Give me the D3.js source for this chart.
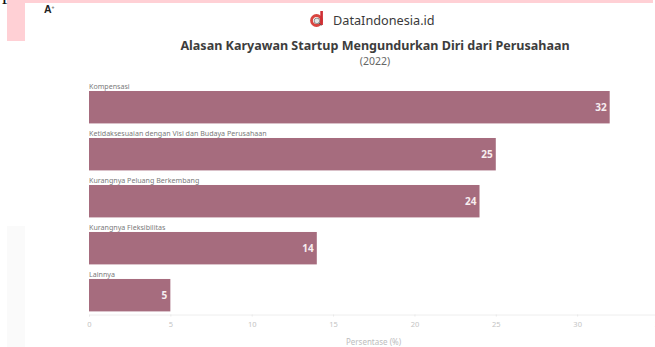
<!DOCTYPE html>
<html>
<head>
<meta charset="utf-8">
<script src="https://cdn.jsdelivr.net/npm/d3@7/dist/d3.min.js"></script>
<style>
  html, body { margin: 0; padding: 0; background: #fff; }
  svg { display: block; }
  text { font-family: "Noto Sans", "Open Sans", sans-serif; }
</style>
</head>
<body>
<svg id="chart" width="655" height="347"></svg>
<script>
const categories = [
  "Kompensasi",
  "Ketidaksesuaian dengan Visi dan Budaya Perusahaan",
  "Kurangnya Peluang Berkembang",
  "Kurangnya Fleksibilitas",
  "Lainnya"
];
const values = [32, 25, 24, 14, 5];
const xTicks = [0, 5, 10, 15, 20, 25, 30, 35];

const svg = d3.select("#chart");

// Page furniture around the chart card
svg.append("rect").attr("x", 7).attr("y", 0).attr("width", 646).attr("height", 3).attr("fill", "#ffd0d5");
svg.append("rect").attr("x", 7).attr("y", 0).attr("width", 18).attr("height", 41).attr("fill", "#ffd0d5");
svg.append("rect").attr("x", 7).attr("y", 226).attr("width", 18).attr("height", 121).attr("fill", "#fafafa");
svg.append("text").attr("x", 2).attr("y", -1).attr("font-size", 21)
  .style("font-family", "Liberation Serif").attr("fill", "#111").text("p");
svg.append("text").attr("x", 44).attr("y", 12.5).attr("font-size", 10.5).attr("font-weight", 700)
  .style("font-family", "Liberation Sans").attr("fill", "#222").text("A");
svg.append("text").attr("x", 51.5).attr("y", 9).attr("font-size", 5).attr("font-weight", 700)
  .style("font-family", "Liberation Sans").attr("fill", "#666").text("+");

// Brand mark and name
const logo = svg.append("g").attr("transform", "translate(316.5,20.5)");
logo.append("circle").attr("r", 5).attr("fill", "none").attr("stroke", "#d8453f").attr("stroke-width", 2.8);
logo.append("rect").attr("x", 3.8).attr("y", -9.5).attr("width", 2.6).attr("height", 14).attr("fill", "#cf2f35");
logo.append("circle").attr("r", 2.8).attr("cx", 0.4).attr("cy", 0.4).attr("fill", "#e3e8e6").attr("stroke", "#666").attr("stroke-width", 0.7);
logo.append("line").attr("x1", 2.4).attr("y1", 2.4).attr("x2", 4.8).attr("y2", 5).attr("stroke", "#555").attr("stroke-width", 1);
svg.append("text").attr("x", 333).attr("y", 24.5).attr("font-size", 12.7).attr("fill", "#3a3a3a").text("DataIndonesia.id");

// Headings
svg.append("text").attr("x", 375).attr("y", 50).attr("text-anchor", "middle")
  .attr("font-size", 12.55).attr("font-weight", 700).attr("fill", "#3d3d3d")
  .text("Alasan Karyawan Startup Mengundurkan Diri dari Perusahaan");
svg.append("text").attr("x", 375).attr("y", 64.5).attr("text-anchor", "middle")
  .attr("font-size", 10.5).attr("fill", "#666").text("(2022)");

// Scales
const x = d3.scaleLinear().domain([0, 35]).range([89, 658.5]);
const y = d3.scaleBand().domain(categories).range([81.6, 320.8]).paddingInner(0.31).paddingOuter(0.2);

// Axis along the bottom with faint ticks and labels
const axis = svg.append("g").attr("transform", "translate(0,314.5)")
  .call(d3.axisBottom(x).tickValues(xTicks).tickSize(2).tickPadding(5));
axis.select(".domain").attr("stroke", "#eeeeee");
axis.selectAll(".tick line").attr("stroke", "#e8e8e8");
axis.selectAll(".tick text").attr("fill", "#c4c4c4").attr("font-size", 7.5)
  .style("font-family", "Noto Sans");

svg.append("text").attr("x", 373.5).attr("y", 345).attr("text-anchor", "middle")
  .attr("font-size", 8).attr("fill", "#bdbdbd").text("Persentase (%)");

// Bars, category captions and value labels
const rows = svg.append("g").selectAll("g").data(categories).join("g");

rows.append("rect")
  .attr("x", x(0))
  .attr("y", d => y(d))
  .attr("width", (d, i) => x(values[i]) - x(0))
  .attr("height", y.bandwidth())
  .attr("fill", "#a66c7e");

rows.append("text")
  .attr("x", x(0))
  .attr("y", d => y(d) - 2)
  .attr("font-size", 7.1)
  .attr("fill", "#7a7a7a")
  .text(d => d);

rows.append("text")
  .attr("x", (d, i) => x(values[i]) - 3)
  .attr("y", d => y(d) + y.bandwidth() / 2 + 3.5)
  .attr("text-anchor", "end")
  .attr("font-size", 10)
  .attr("font-weight", 700)
  .attr("fill", "#f7eef0")
  .text((d, i) => values[i]);
</script>
</body>
</html>
